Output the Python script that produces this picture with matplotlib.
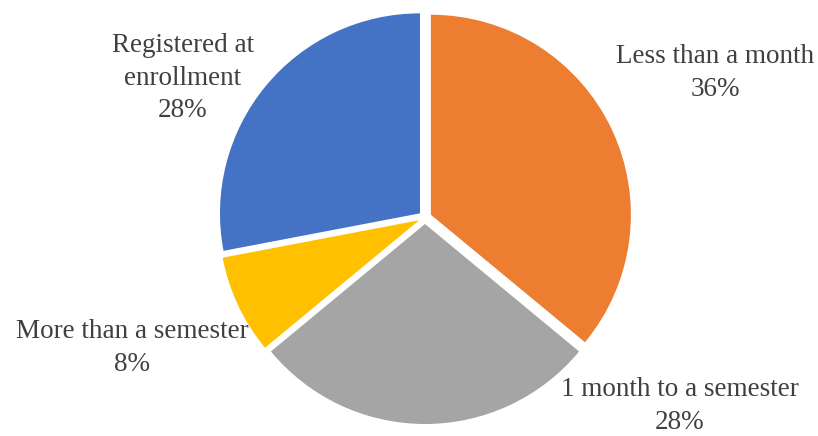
import matplotlib
matplotlib.use('Agg')
from matplotlib import pyplot as plt

labels = ['Less than a month', '1 month to a semester', 'More than a semester', 'Registered at\nenrollment']
shares = [36, 28, 8, 28]
colors = ['#ED7D31', '#A5A5A5', '#FFC000', '#4472C4']

# label block centres in pixel coords (y measured from the top)
label_pos = [(715, 73), (680, 406), (132, 348), (183, 78)]

W, H = 818, 436
fig = plt.figure(figsize=(W / 100, H / 100), dpi=100, facecolor='w')
ax = fig.add_axes([0, 0, 1, 1])

# explode is in data units here (pixels), pie does not scale it by radius
ax.pie(shares, colors=colors, startangle=90, counterclock=False,
       center=(425, H - 217.5), radius=200, explode=[6.5] * 4,
       wedgeprops=dict(linewidth=0))

ax.set_xlim(0, W)
ax.set_ylim(0, H)
ax.set_aspect('equal')
ax.axis('off')

for lab, val, (x, y) in zip(labels, shares, label_pos):
    ax.text(x, H - y, f'{lab}\n{val}%', ha='center', va='center',
            multialignment='center', fontsize=19.5, color='#404040',
            family='Liberation Serif', linespacing=1.4)

fig.savefig('out.png', dpi=100, facecolor='w')
